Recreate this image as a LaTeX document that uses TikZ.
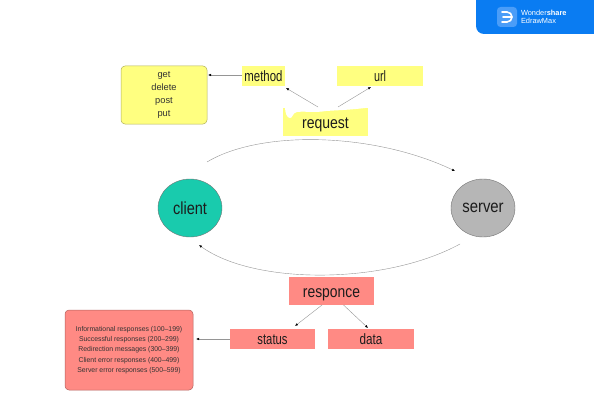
\documentclass[tikz,border=0pt]{standalone}
\usepackage{fontspec}
\setmainfont{Liberation Sans}
\usetikzlibrary{arrows.meta,shapes.geometric}
\definecolor{ylw}{HTML}{FFFF80}
\definecolor{pnk}{HTML}{FF8A84}
\definecolor{teal2}{HTML}{19CBAD}
\definecolor{gry}{HTML}{B6B6B6}
\definecolor{brand}{HTML}{0A7CF2}
\definecolor{brandl}{HTML}{4A9DF8}
\definecolor{txt}{HTML}{1C1C1C}
\definecolor{lin}{HTML}{959595}
\newcommand{\squeeze}[2][.86]{\scalebox{#1}[1]{#2}}
\tikzset{
  x=1pt,y=-1pt,
  every node/.style={inner sep=0pt,outer sep=0pt,text=txt},
  smallbox/.style={font=\fontsize{15}{17}\selectfont},
  bigbox/.style={font=\fontsize{16.5}{18}\selectfont,text height=12pt,text depth=0pt},
  listbox/.style={rounded corners=4pt,draw=#1!70!black,line width=.5pt,align=center,text=black!80},
  peer/.style={ellipse,minimum width=64pt,minimum height=58pt,draw=black!55,line width=.4pt,font=\fontsize{17.5}{19}\selectfont},
  conn/.style={draw=lin,line width=.4pt,-{Latex[length=3pt,width=2.4pt,black]}},
}
\begin{document}
\begin{tikzpicture}
\useasboundingbox (0,0) rectangle (594,420);
% brand badge
\fill[brand] (476,-1) -- (594,-1) -- (594,34) -- (484,34) arc[start angle=-90,end angle=-180,radius=8pt] -- cycle;
\fill[brandl,rounded corners=3.5pt] (497,7) rectangle (517,27);
\draw[white,line width=1.6pt,line cap=round] (502,12) -- (507,12) arc[start angle=90,end angle=-90,radius=5pt] -- (502,22);
\draw[white,line width=1.6pt,line cap=round] (503,17) -- (511,17);
\node[anchor=west,align=left,text=white,font=\fontsize{7.4}{8.6}\selectfont] (brandtxt) at (521,17) {Wonder\textbf{share}\\EdrawMax};
% top row
\node[smallbox,fill=ylw,minimum width=43pt,minimum height=20pt] (method) at (263.5,76) {\squeeze[.76]{method}};
\node[smallbox,fill=ylw,minimum width=86pt,minimum height=20pt] (url) at (380,76) {\squeeze[.72]{url}};
\node[bigbox,fill=ylw,minimum width=85pt,minimum height=28pt] (request) at (325.5,122) {\squeeze[.85]{request}};
\fill[white] (285,107) .. controls (285,113) and (287,118) .. (290,118) .. controls (293,118) and (292,113) .. (297,112) .. controls (305,111) and (315,113) .. (326,111) .. controls (340,110) and (350,110) .. (369,107.5) -- (369,107) -- cycle;
\node[fill=ylw,listbox=ylw,minimum width=86pt,minimum height=58pt,font=\fontsize{9.3}{13}\selectfont] (methods) at (164,95) {get\\delete\\post\\put};
% peers
\node[peer,fill=teal2] (client) at (190,208) {\squeeze[.83]{client}};
\node[peer,fill=gry] (server) at (483,208) {\squeeze[.85]{server}};
% bottom row
\node[bigbox,fill=pnk,minimum width=85pt,minimum height=28pt] (responce) at (331.5,291) {\squeeze[.84]{responce}};
\node[smallbox,fill=pnk,minimum width=85pt,minimum height=20pt,text height=10pt,text depth=0pt] (status) at (272.5,339) {\squeeze[.75]{status}};
\node[smallbox,fill=pnk,minimum width=86pt,minimum height=20pt] (data) at (371,339) {\squeeze[.78]{data}};
\node[fill=pnk,listbox=pnk,minimum width=128pt,minimum height=80pt,font=\fontsize{7}{10.4}\selectfont] (codes) at (129,350) {\squeeze[.98]{Informational responses (100–199)}\\\squeeze[.98]{Successful responses (200–299)}\\\squeeze[.98]{Redirection messages (300–399)}\\\squeeze[.98]{Client error responses (400–499)}\\\squeeze[.98]{Server error responses (500–599)}};
% connectors
\draw[conn] ([yshift=1pt]method.west) -- ([xshift=1pt,yshift=1pt]methods.east |- method.west);
\draw[conn] ([xshift=-7.5pt,yshift=1pt]request.north) -- ([xshift=1pt,yshift=-2pt]method.south east);
\draw[conn] ([xshift=12.5pt,yshift=1pt]request.north) -- ([xshift=-9pt,yshift=-1pt]url.south);
\draw[conn] ([xshift=-9.5pt]responce.south) -- ([xshift=22.5pt,yshift=3pt]status.north);
\draw[conn] ([xshift=12pt]responce.south) -- ([xshift=-3pt,yshift=1pt]data.north);
\draw[conn] (status.west) -- ([xshift=3pt]codes.east |- status.west);
\draw[conn] ([xshift=17pt,yshift=17pt]client.north) .. controls (260,130) and (373,132) .. ([xshift=-28pt,yshift=8pt]server.north);
\draw[conn] ([xshift=-23pt,yshift=-7pt]server.south) .. controls (385,285) and (254,285) .. ([xshift=9pt,yshift=-8pt]client.south);
\end{tikzpicture}
\end{document}
